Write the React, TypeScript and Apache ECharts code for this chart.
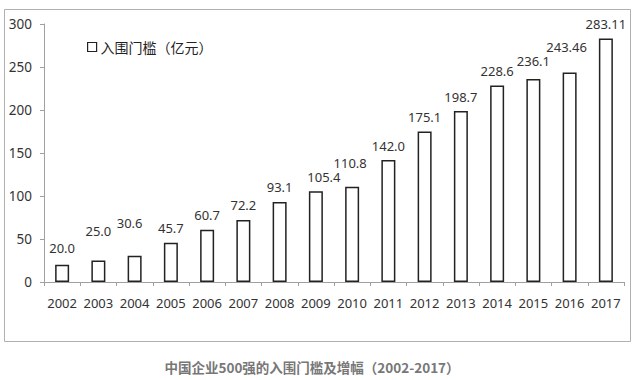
import React, { useEffect, useRef } from "react";
import * as echarts from "echarts";

const years = ["2002","2003","2004","2005","2006","2007","2008","2009","2010","2011","2012","2013","2014","2015","2016","2017"];
const thresholds = [20.0, 25.0, 30.6, 45.7, 60.7, 72.2, 93.1, 105.4, 110.8, 142.0, 175.1, 198.7, 228.6, 236.1, 243.46, 283.11];
const labelTexts = ["20.0","25.0","30.6","45.7","60.7","72.2","93.1","105.4","110.8","142.0","175.1","198.7","228.6","236.1","243.46","283.11"];
const yTicks = [0, 50, 100, 150, 200, 250, 300];
const seriesName = "入围门槛（亿元）";
const caption = "中国企业500强的入围门槛及增幅（2002-2017）";

// label nudges (style only): [dx, dy]
const labelNudge: Record<number, [number, number]> = {
  0: [0, -2],
  1: [0, -15],
  2: [-5, -18],
  8: [-2, -9],
  7: [8, 0],
  9: [0, 1],
  13: [0, -3],
  14: [-3, -11],
};

export default function App() {
  const ref = useRef<HTMLDivElement>(null);
  useEffect(() => {
    if (!ref.current) return;
    const chart = echarts.init(ref.current, undefined, { renderer: "svg" });
    const font = "'Noto Sans', 'Noto Sans CJK SC', sans-serif";
    chart.setOption({
      animation: false,
      backgroundColor: "#ffffff",
      textStyle: { fontFamily: font },
      graphic: [
        {
          type: "rect",
          shape: { x: 4.5, y: 9.5, width: 626, height: 332 },
          style: { fill: "none", stroke: "#b0b0b0", lineWidth: 1 },
          silent: true,
        },
        {
          type: "text",
          x: 312,
          y: 367,
          style: {
            text: caption,
            fill: "#777777",
            fontSize: 13.5,
            fontWeight: "bold",
            fontFamily: "'Noto Sans CJK SC', sans-serif",
            align: "center",
            verticalAlign: "middle",
          },
        },
      ],
      legend: {
        left: 82,
        top: 35,
        data: [seriesName],
        icon: "rect",
        itemWidth: 9,
        itemHeight: 9,
        itemGap: 4,
        textStyle: { fontSize: 14, color: "#222", fontFamily: "'Noto Sans CJK SC', sans-serif", padding: [0, 0, 0, -1] },
        itemStyle: { color: "#fff", borderColor: "#222", borderWidth: 1.2 },
      },
      grid: { left: 44, right: 11, top: 24, bottom: 98 },
      xAxis: {
        type: "category",
        data: years,
        axisLine: { lineStyle: { color: "#a0a0a0", width: 1 } },
        axisTick: { show: true, length: 4, alignWithLabel: false, lineStyle: { color: "#a0a0a0" } },
        axisLabel: { color: "#333", fontSize: 13, margin: 14, fontFamily: font, interval: 0 },
      },
      yAxis: {
        type: "value",
        min: yTicks[0],
        max: yTicks[yTicks.length - 1],
        interval: yTicks[1] - yTicks[0],
        axisLine: { show: true, lineStyle: { color: "#a0a0a0", width: 1 } },
        axisTick: { show: true, length: 4, lineStyle: { color: "#a0a0a0" } },
        splitLine: { show: false },
        axisLabel: { color: "#333", fontSize: 13.5, margin: 12, fontFamily: font },
      },
      series: [
        {
          name: seriesName,
          type: "bar",
          barWidth: 14,
          itemStyle: { color: "#ffffff", borderColor: "#222", borderWidth: 1.5 },
          label: {
            show: true,
            position: "top",
            distance: 8,
            color: "#333",
            fontSize: 13,
            fontFamily: font,
            formatter: (p: any) => labelTexts[p.dataIndex],
          },
          data: thresholds.map((v, i) => {
            const n = labelNudge[i];
            return n ? { value: v, label: { offset: n } } : v;
          }),
        },
      ],
    });
    return () => chart.dispose();
  }, []);
  return <div ref={ref} style={{ position: "fixed", left: 0, top: 0, width: 635, height: 380 }} />;
}
